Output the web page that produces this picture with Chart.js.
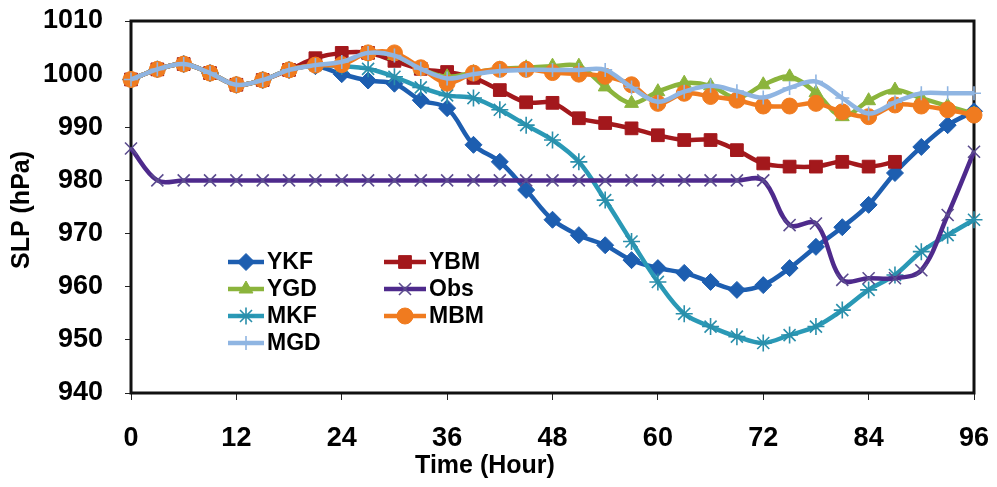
<!DOCTYPE html>
<html>
<head>
<meta charset="utf-8">
<script src="https://cdn.jsdelivr.net/npm/chart.js@4/dist/chart.umd.min.js"></script>
<style>
  html, body { margin: 0; padding: 0; background: #ffffff; }
  canvas { display: block; }
</style>
</head>
<body>
<canvas id="c" width="997" height="487"></canvas>
<script>
// Forecast hours (every 3 h)
const hours = [0, 3, 6, 9, 12, 15, 18, 21, 24, 27, 30, 33, 36, 39, 42, 45, 48,
               51, 54, 57, 60, 63, 66, 69, 72, 75, 78, 81, 84, 87, 90, 93, 96];

// Sea level pressure (hPa) per run
const ykf = [999, 1000.9, 1001.9, 1000.2, 998, 998.9, 1000.8, 1001.5, 1000, 998.8, 998.2,
             995.1, 993.6, 986.7, 983.5, 978.2, 972.6, 969.7, 967.8, 965, 963.5, 962.6,
             960.9, 959.4, 960.3, 963.5, 967.5, 971.2, 975.4, 981.4, 986.3, 990.4, 993];
const ybm = [999, 1000.9, 1001.9, 1000.2, 998, 998.9, 1000.8, 1003, 1004, 1004, 1002.5,
             1001, 1000.4, 999.3, 997, 994.7, 994.6, 991.7, 990.8, 989.8, 988.5, 987.6,
             987.6, 985.7, 983.2, 982.6, 982.6, 983.5, 982.6, 983.5];
const ygd = [999, 1000.9, 1001.9, 1000.2, 998, 998.9, 1000.8, 1001.7, 1002, 1004, 1003.5,
             1001, 999.5, 1000.3, 1001, 1001.2, 1001.5, 1001.5, 997.6, 994.5, 996.7, 998.3,
             997.8, 995.5, 998, 999.5, 996.5, 992, 995, 997, 995.5, 994, 992.5];
const obs = [986, 980, 980, 980, 980, 980, 980, 980, 980, 980, 980, 980, 980, 980, 980,
             980, 980, 980, 980, 980, 980, 980, 980, 980, 980, 971.6, 971.9, 961.3, 961.6,
             961.6, 963.1, 973.5, 985.4];
const mkf = [999, 1000.9, 1001.9, 1000.2, 998, 998.9, 1000.8, 1001.7, 1001.5, 1001, 999.5,
             997.5, 996, 995.5, 993.3, 990.4, 987.6, 983.5, 976.3, 968.5, 960.9, 954.9,
             952.5, 950.6, 949.4, 950.9, 952.5, 955.6, 959.4, 962.2, 966.6, 969.7, 972.6];
const mbm = [999, 1000.9, 1001.9, 1000.2, 998, 998.9, 1000.8, 1001.7, 1001.8, 1004, 1004,
             1001.2, 998.3, 1000.2, 1000.9, 1000.9, 1000.3, 1000, 999.6, 998, 994.5, 996.4,
             995.8, 995.1, 994, 994, 994.5, 992.9, 992, 994.2, 994, 993.3, 992.3];
const mgd = [999, 1000.9, 1001.9, 1000.2, 998, 998.9, 1000.8, 1001.7, 1002.3, 1004, 1003.5,
             1001, 999.2, 1000, 1000.6, 1000.8, 1000.8, 1000.8, 1000.8, 997.5, 994.8, 996.7,
             997.8, 996.8, 995.6, 997.4, 998.6, 995.5, 992.6, 994.7, 996.4, 996.4, 996.4];

// Axis ticks
const xTicks = [0, 12, 24, 36, 48, 60, 72, 84, 96];
const yTicks = [940, 950, 960, 970, 980, 990, 1000, 1010];

const FONT = "'Liberation Sans', Arial, sans-serif";

function pts(values) {
  return values.map((v, i) => ({ x: hours[i], y: v }));
}

function series(label, values, color, style, radius, order, extra) {
  return Object.assign({
    label: label,
    data: pts(values),
    borderColor: color,
    backgroundColor: color,
    borderWidth: 4.5,
    pointStyle: style,
    pointRadius: radius,
    pointBorderColor: color,
    pointBackgroundColor: color,
    pointBorderWidth: 1,
    tension: 0.35,
    clip: false,
    order: order
  }, extra || {});
}

const datasets = [
  series('YKF', ykf, '#1d5eb0', 'rectRot', 8.5, 6),
  series('YBM', ybm, '#a3181c', 'rect', 9, 3),
  series('YGD', ygd, '#8bb43c', 'triangle', 8, 2),
  series('Obs', obs, '#4e2a8c', 'crossRot', 8.5, 4, { pointBorderColor: '#5b4c8e', pointBorderWidth: 1.6 }),
  series('MKF', mkf, '#2a99b6', 'star', 8.5, 5, { pointBorderColor: '#2a8fab', pointBorderWidth: 1.6 }),
  series('MBM', mbm, '#f07b1f', 'circle', 8, 1),
  series('MGD', mgd, '#8fb5e2', 'cross', 7, 0, { pointBorderWidth: 1.6 })
];

// Plot frame drawn beneath the series
const framePlugin = {
  id: 'frame',
  beforeDatasetsDraw(chart) {
    const a = chart.chartArea, ctx = chart.ctx;
    ctx.save();
    ctx.strokeStyle = '#111';
    ctx.lineWidth = 3;
    ctx.strokeRect(a.left, a.top, a.right - a.left, a.bottom - a.top);
    ctx.restore();
  }
};

// Two-column legend inside the plot, plus axis titles
const legendLayout = [
  { label: 'YKF', col: 0, row: 0 }, { label: 'YBM', col: 1, row: 0 },
  { label: 'YGD', col: 0, row: 1 }, { label: 'Obs', col: 1, row: 1 },
  { label: 'MKF', col: 0, row: 2 }, { label: 'MBM', col: 1, row: 2 },
  { label: 'MGD', col: 0, row: 3 }
];
const overlayPlugin = {
  id: 'overlay',
  afterDraw(chart) {
    const ctx = chart.ctx;
    const colX = [228, 384];
    const lineW = [36, 42];
    const rowY = [262, 289, 316, 343];
    ctx.save();
    legendLayout.forEach(item => {
      const ds = chart.data.datasets.find(d => d.label === item.label);
      const x0 = colX[item.col], x1 = x0 + lineW[item.col], y = rowY[item.row];
      ctx.strokeStyle = ds.borderColor;
      ctx.lineWidth = 4.5;
      ctx.beginPath();
      ctx.moveTo(x0, y);
      ctx.lineTo(x1, y);
      ctx.stroke();
      ctx.fillStyle = ds.pointBackgroundColor;
      ctx.strokeStyle = ds.pointBorderColor;
      ctx.lineWidth = ds.pointBorderWidth;
      Chart.helpers.drawPoint(ctx, {
        pointStyle: ds.pointStyle, radius: ds.pointRadius, rotation: 0,
        borderWidth: ds.pointBorderWidth
      }, (x0 + x1) / 2, y);
      ctx.fillStyle = '#000';
      ctx.font = 'bold 23px ' + FONT;
      ctx.textAlign = 'left';
      ctx.textBaseline = 'middle';
      ctx.fillText(item.label, x1 + 3, y + 1);
    });

    ctx.fillStyle = '#000';
    ctx.font = 'bold 25px ' + FONT;
    ctx.textAlign = 'center';
    ctx.textBaseline = 'middle';
    ctx.fillText('Time (Hour)', 485, 466);
    ctx.translate(22, 210);
    ctx.rotate(-Math.PI / 2);
    ctx.fillText('SLP (hPa)', 0, 0);
    ctx.restore();
  }
};

new Chart(document.getElementById('c'), {
  type: 'line',
  data: { datasets: datasets },
  options: {
    responsive: false,
    animation: false,
    devicePixelRatio: 1,
    layout: { padding: { left: 0, top: 21, right: 23, bottom: 0 } },
    plugins: { legend: { display: false }, tooltip: { enabled: false } },
    scales: {
      x: {
        type: 'linear',
        min: 0, max: 96,
        afterFit(scale) { scale.height = 94; scale.paddingLeft = 0; scale.paddingRight = 0; },
        afterBuildTicks(scale) { scale.ticks = xTicks.map(v => ({ value: v })); },
        ticks: { color: '#000', padding: 22, font: { family: FONT, size: 27, weight: 'bold' }, maxRotation: 0,
                 callback: v => String(v) },
        grid: { drawOnChartArea: false, drawTicks: true, tickLength: 7, color: '#222', lineWidth: 1 },
        border: { display: false }
      },
      y: {
        type: 'linear',
        min: 940, max: 1010,
        afterFit(scale) { scale.width = 131; scale.paddingTop = 0; scale.paddingBottom = 0; },
        afterBuildTicks(scale) { scale.ticks = yTicks.map(v => ({ value: v })); },
        ticks: { color: '#000', padding: 22, font: { family: FONT, size: 27, weight: 'bold' },
                 callback: v => String(v) },
        grid: { drawOnChartArea: false, drawTicks: true, tickLength: 6, color: '#222', lineWidth: 1 },
        border: { display: false }
      }
    }
  },
  plugins: [framePlugin, overlayPlugin]
});
</script>
</body>
</html>
